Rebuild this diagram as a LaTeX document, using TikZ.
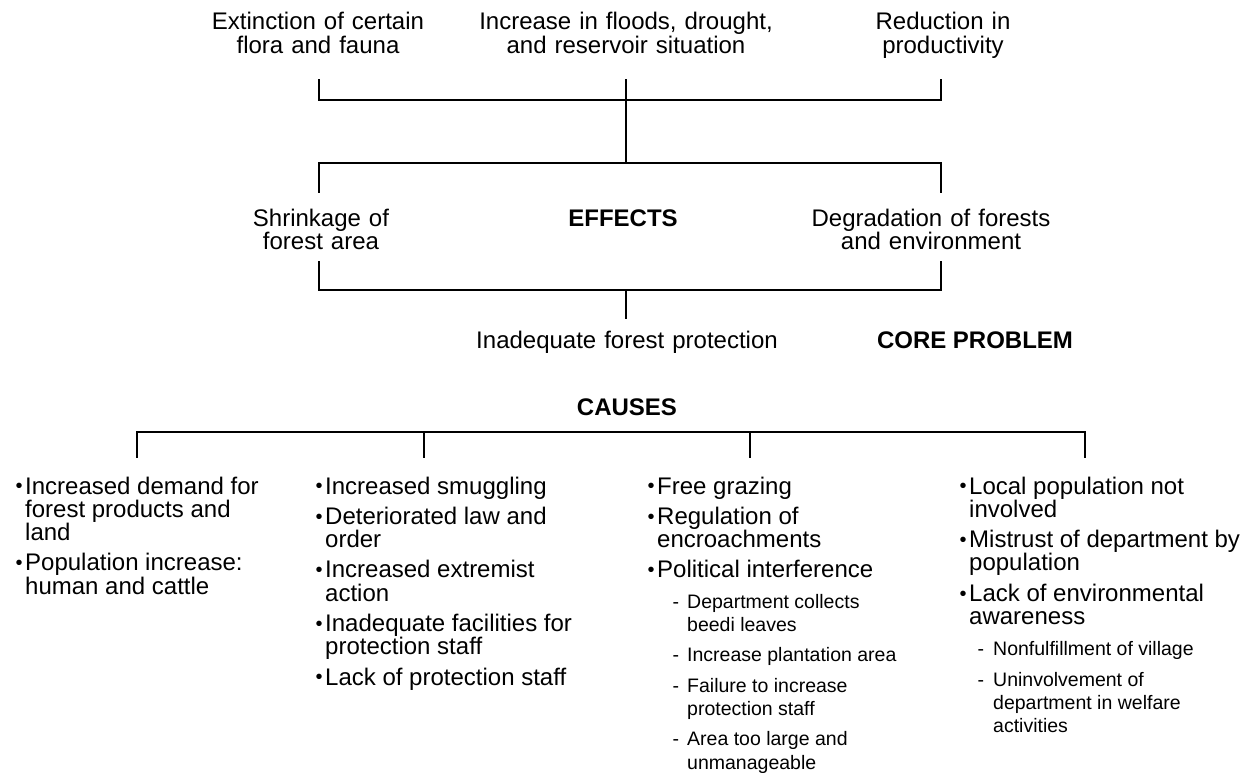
\documentclass[tikz,border=0pt]{standalone}
\usepackage{fontspec}
\setmainfont{Liberation Sans}
\newcommand\bulmark{\raisebox{1.2pt}{\fontsize{20}{20}\selectfont\textbullet}}
\newcommand\bi{\leavevmode\llap{\bulmark\hspace{2.5pt}}}
\newlength\subo
\newlength\subg
\newcommand\subfnt{\fontsize{19.5}{23.3}\selectfont\spaceskip=\fontdimen2\font\relax}
\newcommand\si{\subfnt\hspace*{\subo}\llap{-\hspace{\subg}}}
\newcommand\sct{\subfnt\hspace*{\subo}}
\tikzset{
  lbl/.style={font=\fontsize{24}{23.5}\selectfont, align=center, text width=340pt, inner sep=0pt, anchor=base},
  hdr/.style={font=\fontsize{24}{23.5}\selectfont\bfseries, inner sep=0pt, anchor=base},
  col/.style={font=\fontsize{24}{23.3}\selectfont, align=flush left, text width=300pt, inner sep=0pt, anchor=base west},
  tree/.style={line width=1.7pt, line cap=rect}
}
\begin{document}
\begin{tikzpicture}[x=1pt,y=-1pt]
\useasboundingbox[fill=white] (0,0) rectangle (1250,773);
% top effects
\node[lbl] (ext) at (318,30) {Extinction of certain\\flora and fauna};
\node[lbl] (flood) at (626,30) {Increase in floods, drought,\\and reservoir situation};
\node[lbl] (prod) at (943,30) {Reduction in\\productivity};
% direct effects
\node[lbl] (shr) at (321,226) {Shrinkage of\\forest area};
\node[hdr] (eff) at (623,226) {EFFECTS};
\node[lbl] (deg) at (931,226) {Degradation of forests\\and environment};
% core
\node[lbl] (core) at (627,348) {Inadequate forest protection};
\node[hdr] (corel) at (975,348) {CORE PROBLEM};
\node[hdr] (cau) at (627,415) {CAUSES};
% bracket coordinates
\coordinate (a1) at (319,80);  \coordinate (a2) at (319,100);
\coordinate (a3) at (941,100); \coordinate (a4) at (941,80);
\coordinate (am) at (626,80);  \coordinate (bm) at (626,163);
\coordinate (b1) at (319,192); \coordinate (b2) at (319,163);
\coordinate (b3) at (941,163); \coordinate (b4) at (941,192);
\coordinate (c1) at (319,262); \coordinate (c2) at (319,290);
\coordinate (c3) at (941,290); \coordinate (c4) at (941,262);
\coordinate (cm) at (626,290); \coordinate (cs) at (626,318);
\coordinate (d1) at (137,457); \coordinate (d2) at (137,432);
\coordinate (d3) at (1085,432); \coordinate (d4) at (1085,457);
\coordinate (e1) at (424,432); \coordinate (e2) at (424,457);
\coordinate (f1) at (750,432); \coordinate (f2) at (750,457);
\draw[tree] (a1) -- (a2) -- (a3) -- (a4);
\draw[tree] (am) -- (bm);
\draw[tree] (b1) -- (b2) -- (b3) -- (b4);
\draw[tree] (c1) -- (c2) -- (c3) -- (c4);
\draw[tree] (cm) -- (cs);
\draw[tree] (d1) -- (d2) -- (d3) -- (d4);
\draw[tree] (e1) -- (e2);
\draw[tree] (f1) -- (f2);
% causes columns
\node[col] (k1) at (25,494) {\bi Increased demand for\\forest products and\\land\\[7pt]\bi Population increase:\\human and cattle};
\node[col] (k2) at (325,494) {\bi Increased smuggling\\[7pt]\bi Deteriorated law and\\order\\[7pt]\bi Increased extremist\\action\\[7pt]\bi Inadequate facilities for\\protection staff\\[7pt]\bi Lack of protection staff};
\node[col] (k3) at (657,494) {\setlength\subo{30pt}\setlength\subg{8pt}\bi Free grazing\\[7pt]\bi Regulation of\\encroachments\\[7pt]\bi Political interference\\[7pt]\si Department collects\\ \sct beedi leaves\\[7pt]\si Increase plantation area\\[7pt]\si Failure to increase\\ \sct protection staff\\[7pt]\si Area too large and\\ \sct unmanageable};
\node[col] (k4) at (969,494) {\setlength\subo{24pt}\setlength\subg{9pt}\bi Local population not\\involved\\[7pt]\bi Mistrust of department by\\population\\[7pt]\bi Lack of environmental\\awareness\\[8pt]\si Nonfulfillment of village\\[7pt]\si Uninvolvement of\\ \sct department in welfare\\ \sct activities};
\end{tikzpicture}
\end{document}
